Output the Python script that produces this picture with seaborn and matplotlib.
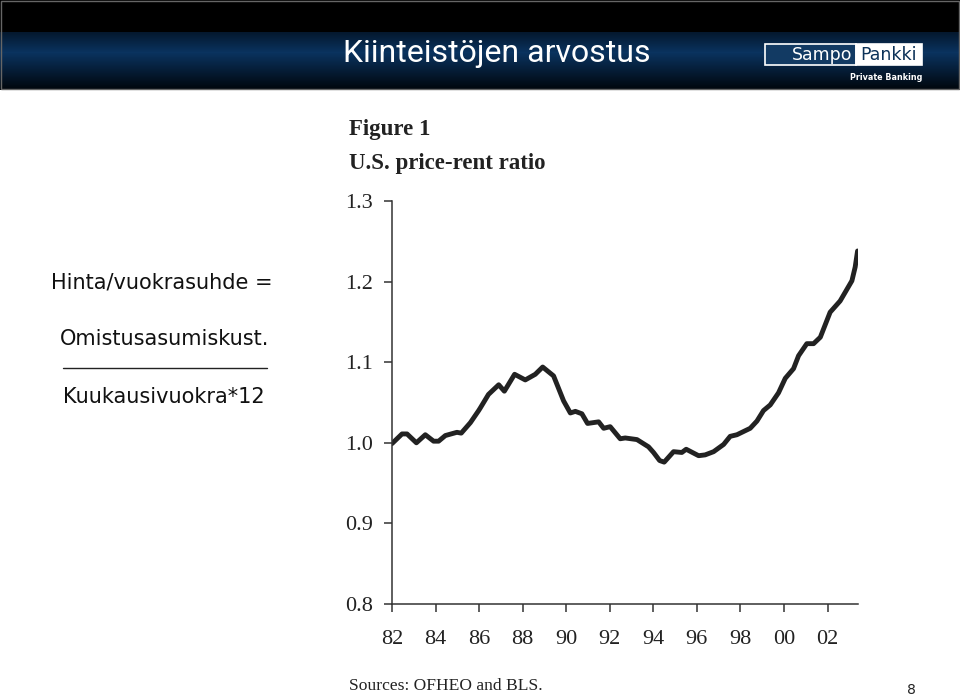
import numpy as np
import pandas as pd
import matplotlib
matplotlib.use("Agg")
import matplotlib.pyplot as plt
import seaborn as sns
from matplotlib.patches import Rectangle
from matplotlib.lines import Line2D

# ---- data ----
years = [82.0, 82.46, 82.69, 83.12, 83.53, 83.91, 84.14, 84.45, 84.98, 85.18,
         85.6, 85.98, 86.05, 86.43, 86.9, 87.16, 87.63, 88.12, 88.58, 88.92,
         89.42, 89.88, 90.19, 90.42, 90.72, 90.98, 91.49, 91.72, 92.02, 92.48,
         92.71, 93.25, 93.78, 94.01, 94.29, 94.5, 94.93, 95.31, 95.51, 96.08,
         96.38, 96.77, 97.23, 97.53, 97.84, 98.45, 98.76, 99.06, 99.37, 99.75,
         100.06, 100.44, 100.67, 101.05, 101.36, 101.67, 102.12, 102.58, 103.12,
         103.27, 103.38]
ratio = [0.999, 1.011, 1.011, 1.000, 1.010, 1.002, 1.002, 1.009, 1.013, 1.012,
         1.025, 1.040, 1.043, 1.060, 1.072, 1.064, 1.085, 1.078, 1.085, 1.094,
         1.083, 1.052, 1.037, 1.039, 1.036, 1.024, 1.026, 1.018, 1.020, 1.005,
         1.006, 1.004, 0.995, 0.988, 0.978, 0.976, 0.989, 0.988, 0.992, 0.984,
         0.985, 0.989, 0.998, 1.008, 1.010, 1.018, 1.027, 1.040, 1.047, 1.062,
         1.080, 1.092, 1.108, 1.123, 1.123, 1.131, 1.162, 1.176, 1.201,
         1.218, 1.238]
x_ticks = [82, 84, 86, 88, 90, 92, 94, 96, 98, 100, 102]
x_labels = ["82", "84", "86", "88", "90", "92", "94", "96", "98", "00", "02"]
y_ticks = [0.8, 0.9, 1.0, 1.1, 1.2, 1.3]
y_labels = ["0.8", "0.9", "1.0", "1.1", "1.2", "1.3"]

df = pd.DataFrame({"year": years, "ratio": ratio})

sns.set_theme(style="white")
plt.rcParams["font.family"] = ["DejaVu Sans"]

W, H = 960, 697
fig = plt.figure(figsize=(9.6, 6.97), dpi=100)
fig.patch.set_facecolor("white")

def fx(px):
    return px / W

def fy(py):
    return 1 - py / H

# ---- header band with gradient ----
hax = fig.add_axes([0, fy(90), 1, 90 / H])
hax.set_axis_off()
rows = np.arange(90)
grad = np.zeros((90, 1, 3))
top_blue = np.array([0x04, 0x18, 0x2e]) / 255
mid_blue = np.array([0x0a, 0x33, 0x5f]) / 255
bot_blue = np.array([0x01, 0x06, 0x0c]) / 255
for r in rows:
    if r < 32:
        c = np.array([0, 0, 0])
    elif r < 52:
        t = (r - 32) / 20
        c = top_blue * (1 - t) + mid_blue * t
    else:
        t = (r - 52) / 37
        c = mid_blue * (1 - t) + bot_blue * t
    grad[r, 0] = c
hax.imshow(grad, aspect="auto", extent=[0, 1, 0, 1], origin="upper")
hax.set_xlim(0, 1)
hax.set_ylim(0, 1)
# thin grey frame of the header
fig.patches.append(Rectangle((0.001, fy(89)), 0.998, 88 / H, transform=fig.transFigure,
                             facecolor="none", edgecolor="#666666", linewidth=1.0))

fig.text(fx(497), fy(54), "Kiinteistöjen arvostus", color="white",
         fontsize=23, family="Roboto", ha="center", va="center")

# logo
fig.patches.append(Rectangle((fx(765), fy(65)), fx(91), 21 / H, transform=fig.transFigure,
                             facecolor="#123a63", edgecolor="white", linewidth=1.2))
fig.patches.append(Rectangle((fx(856), fy(65)), fx(66), 21 / H, transform=fig.transFigure,
                             facecolor="white", edgecolor="white", linewidth=1.2))
fig.text(fx(852), fy(55.5), "Sampo", color="white", fontsize=12.5, family="DejaVu Sans",
         ha="right", va="center")
fig.text(fx(889), fy(55.5), "Pankki", color="#0b3158", fontsize=12.5, family="DejaVu Sans",
         ha="center", va="center")
fig.text(fx(922), fy(77), "Private Banking", color="white", fontsize=5.8, family="DejaVu Sans",
         ha="right", va="center", fontweight="bold")

# ---- left formula text ----
fig.text(fx(162), fy(283), "Hinta/vuokrasuhde =", fontsize=15, ha="center", va="center",
         color="#111111")
fig.text(fx(165), fy(339), "Omistusasumiskust.", fontsize=15, ha="center", va="center",
         color="#111111")
fig.lines.append(Line2D([fx(63), fx(267)], [fy(368), fy(368)], transform=fig.transFigure,
                        color="#222222", linewidth=1))
fig.text(fx(164), fy(397), "Kuukausivuokra*12", fontsize=15, ha="center", va="center",
         color="#111111")

# ---- chart titles ----
serif = "Liberation Serif"
fig.text(fx(349), fy(130), "Figure 1", fontsize=16.5, family=serif, fontweight="bold",
         ha="left", va="center", color="#222222")
fig.text(fx(349), fy(164), "U.S. price-rent ratio", fontsize=16.5, family=serif,
         fontweight="bold", ha="left", va="center", color="#222222")
fig.text(fx(349), fy(686), "Sources: OFHEO and BLS.", fontsize=12.6, family=serif,
         ha="left", va="center", color="#222222")
fig.text(fx(911), fy(690), "8", fontsize=10, ha="center", va="center", color="#222222")

# ---- main chart ----
ax = fig.add_axes([fx(392), fy(604), fx(858 - 392), (604 - 201) / H])
sns.lineplot(data=df, x="year", y="ratio", ax=ax, color="#222222", linewidth=3.5,
             solid_joinstyle="round", solid_capstyle="round")
ax.set_xlim(82, 103.4)
ax.set_ylim(0.8, 1.3)
ax.set_xticks(x_ticks)
ax.set_xticklabels(x_labels)
ax.set_yticks(y_ticks)
ax.set_yticklabels(y_labels)
ax.set_xlabel("")
ax.set_ylabel("")
ax.set_facecolor("white")
for s in ["top", "right"]:
    ax.spines[s].set_visible(False)
for s in ["left", "bottom"]:
    ax.spines[s].set_color("#333333")
    ax.spines[s].set_linewidth(1.1)
ax.tick_params(axis="both", which="major", direction="out", length=6, width=1.1,
               color="#333333", labelcolor="#222222", labelsize=16,
               left=True, bottom=True)
ax.tick_params(axis="x", pad=13)
ax.tick_params(axis="y", pad=8)
for lab in ax.get_xticklabels() + ax.get_yticklabels():
    lab.set_family(serif)

fig.savefig("out.png", dpi=100, facecolor="white")
